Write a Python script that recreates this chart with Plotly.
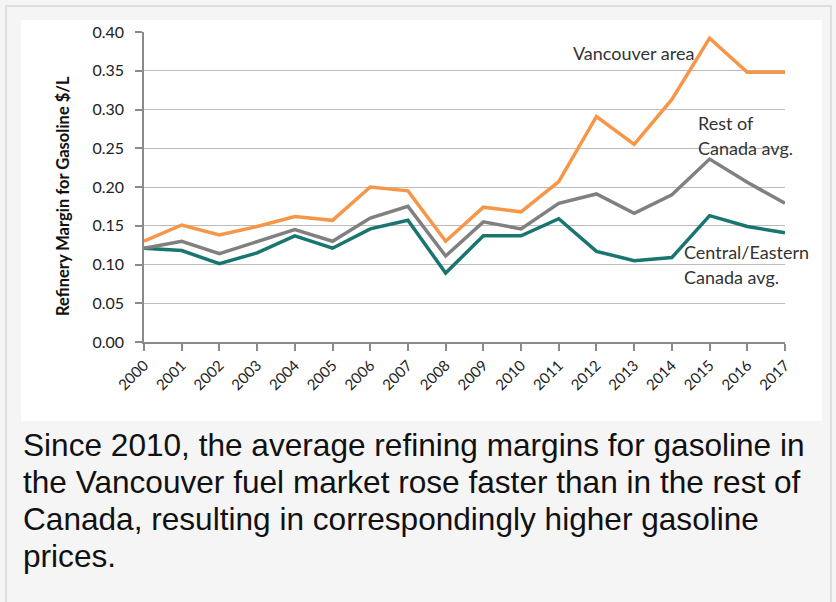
import plotly.graph_objects as go

years = list(range(2000, 2018))
vancouver = [0.130, 0.151, 0.138, 0.149, 0.162, 0.157, 0.200, 0.195, 0.130, 0.174,
             0.168, 0.207, 0.291, 0.255, 0.313, 0.392, 0.348, 0.348]
rest_of_canada = [0.121, 0.130, 0.114, 0.129, 0.145, 0.130, 0.160, 0.175, 0.111, 0.155,
                  0.146, 0.179, 0.191, 0.166, 0.190, 0.236, 0.206, 0.179]
central_eastern = [0.121, 0.118, 0.101, 0.115, 0.137, 0.121, 0.146, 0.157, 0.089, 0.137,
                   0.137, 0.159, 0.117, 0.105, 0.109, 0.163, 0.149, 0.141]
y_ticks = [0.00, 0.05, 0.10, 0.15, 0.20, 0.25, 0.30, 0.35, 0.40]
caption_lines = [
    "Since 2010, the average refining margins for gasoline in",
    "the Vancouver fuel market rose faster than in the rest of",
    "Canada, resulting in correspondingly higher gasoline",
    "prices.",
]

W, H = 836, 602
L, R, T, B = 144, 51, 32, 260
PW, PH = W - L - R, H - T - B


def px(x):
    return (x - L) / PW


def py(y):
    return (H - B - y) / PH


CHART_FONT = "Lato, 'Open Sans', sans-serif"
ORANGE = "#F79646"
GRAY = "#808080"
TEAL = "#18756F"
LABEL_FONT = dict(family=CHART_FONT, size=18, color="#333333")

fig = go.Figure()
fig.add_trace(go.Scatter(x=years, y=central_eastern, mode="lines",
                         line=dict(color=TEAL, width=3.5), name="Central/Eastern Canada avg."))
fig.add_trace(go.Scatter(x=years, y=rest_of_canada, mode="lines",
                         line=dict(color=GRAY, width=3.5), name="Rest of Canada avg."))
fig.add_trace(go.Scatter(x=years, y=vancouver, mode="lines",
                         line=dict(color=ORANGE, width=3.5), name="Vancouver area"))

shapes = [
    dict(type="rect", xref="paper", yref="paper", x0=px(21), x1=px(822), y0=py(421), y1=py(20),
         fillcolor="white", line=dict(width=0), layer="below"),
    dict(type="rect", xref="paper", yref="paper", x0=px(6), x1=px(831), y0=py(610), y1=py(6),
         fillcolor="rgba(0,0,0,0)", line=dict(color="#dedede", width=2), layer="below"),
]

annotations = [
    dict(text="Refinery Margin for Gasoline $/L", x=px(63), y=py(196), xref="paper", yref="paper",
         textangle=-90, showarrow=False, xanchor="center", yanchor="middle",
         font=dict(family=CHART_FONT, size=16.5, color="#111111", weight="bold")),
    dict(text="Vancouver area", x=px(571), y=py(53), xref="paper", yref="paper",
         showarrow=False, xanchor="left", yanchor="middle", font=LABEL_FONT),
    dict(text="Rest of", x=px(696), y=py(123), xref="paper", yref="paper",
         showarrow=False, xanchor="left", yanchor="middle", font=LABEL_FONT),
    dict(text="Canada avg.", x=px(696), y=py(148), xref="paper", yref="paper",
         showarrow=False, xanchor="left", yanchor="middle", font=LABEL_FONT),
    dict(text="Central/Eastern", x=px(682), y=py(252), xref="paper", yref="paper",
         showarrow=False, xanchor="left", yanchor="middle", font=LABEL_FONT),
    dict(text="Canada avg.", x=px(682), y=py(277), xref="paper", yref="paper",
         showarrow=False, xanchor="left", yanchor="middle", font=LABEL_FONT),
]
for i, line in enumerate(caption_lines):
    annotations.append(dict(text=line, x=px(21), y=py(445 + 37 * i), xref="paper", yref="paper",
                            showarrow=False, xanchor="left", yanchor="middle",
                            font=dict(family="'Liberation Sans', Arial, sans-serif", size=31.6,
                                      color="#111111")))

fig.update_layout(
    width=W, height=H,
    margin=dict(l=L, r=R, t=T, b=B, pad=0),
    paper_bgcolor="#f5f5f5",
    plot_bgcolor="white",
    showlegend=False,
    shapes=shapes,
    annotations=annotations,
    xaxis=dict(range=[2000, 2017], tickmode="array", tickvals=years,
               ticktext=[str(y) for y in years], tickangle=-45,
               showgrid=False, zeroline=False, showline=True, linecolor="#8a8a8a", linewidth=1.5,
               ticks="outside", ticklen=7, tickcolor="#8a8a8a", tickwidth=1.5,
               tickfont=dict(family=CHART_FONT, size=15, color="#222222"),
               fixedrange=True),
    yaxis=dict(range=[0, 0.4], tickmode="array", tickvals=y_ticks,
               ticktext=[f"{v:.2f}" for v in y_ticks],
               showgrid=True, gridcolor="#bcbcbc", gridwidth=1,
               zeroline=False, showline=True, linecolor="#8a8a8a", linewidth=1.5,
               ticks="outside", ticklen=7, tickcolor="#8a8a8a", tickwidth=1.5,
               ticklabelstandoff=8,
               tickfont=dict(family=CHART_FONT, size=16, color="#222222"),
               fixedrange=True),
)

fig.write_html("out.html")
